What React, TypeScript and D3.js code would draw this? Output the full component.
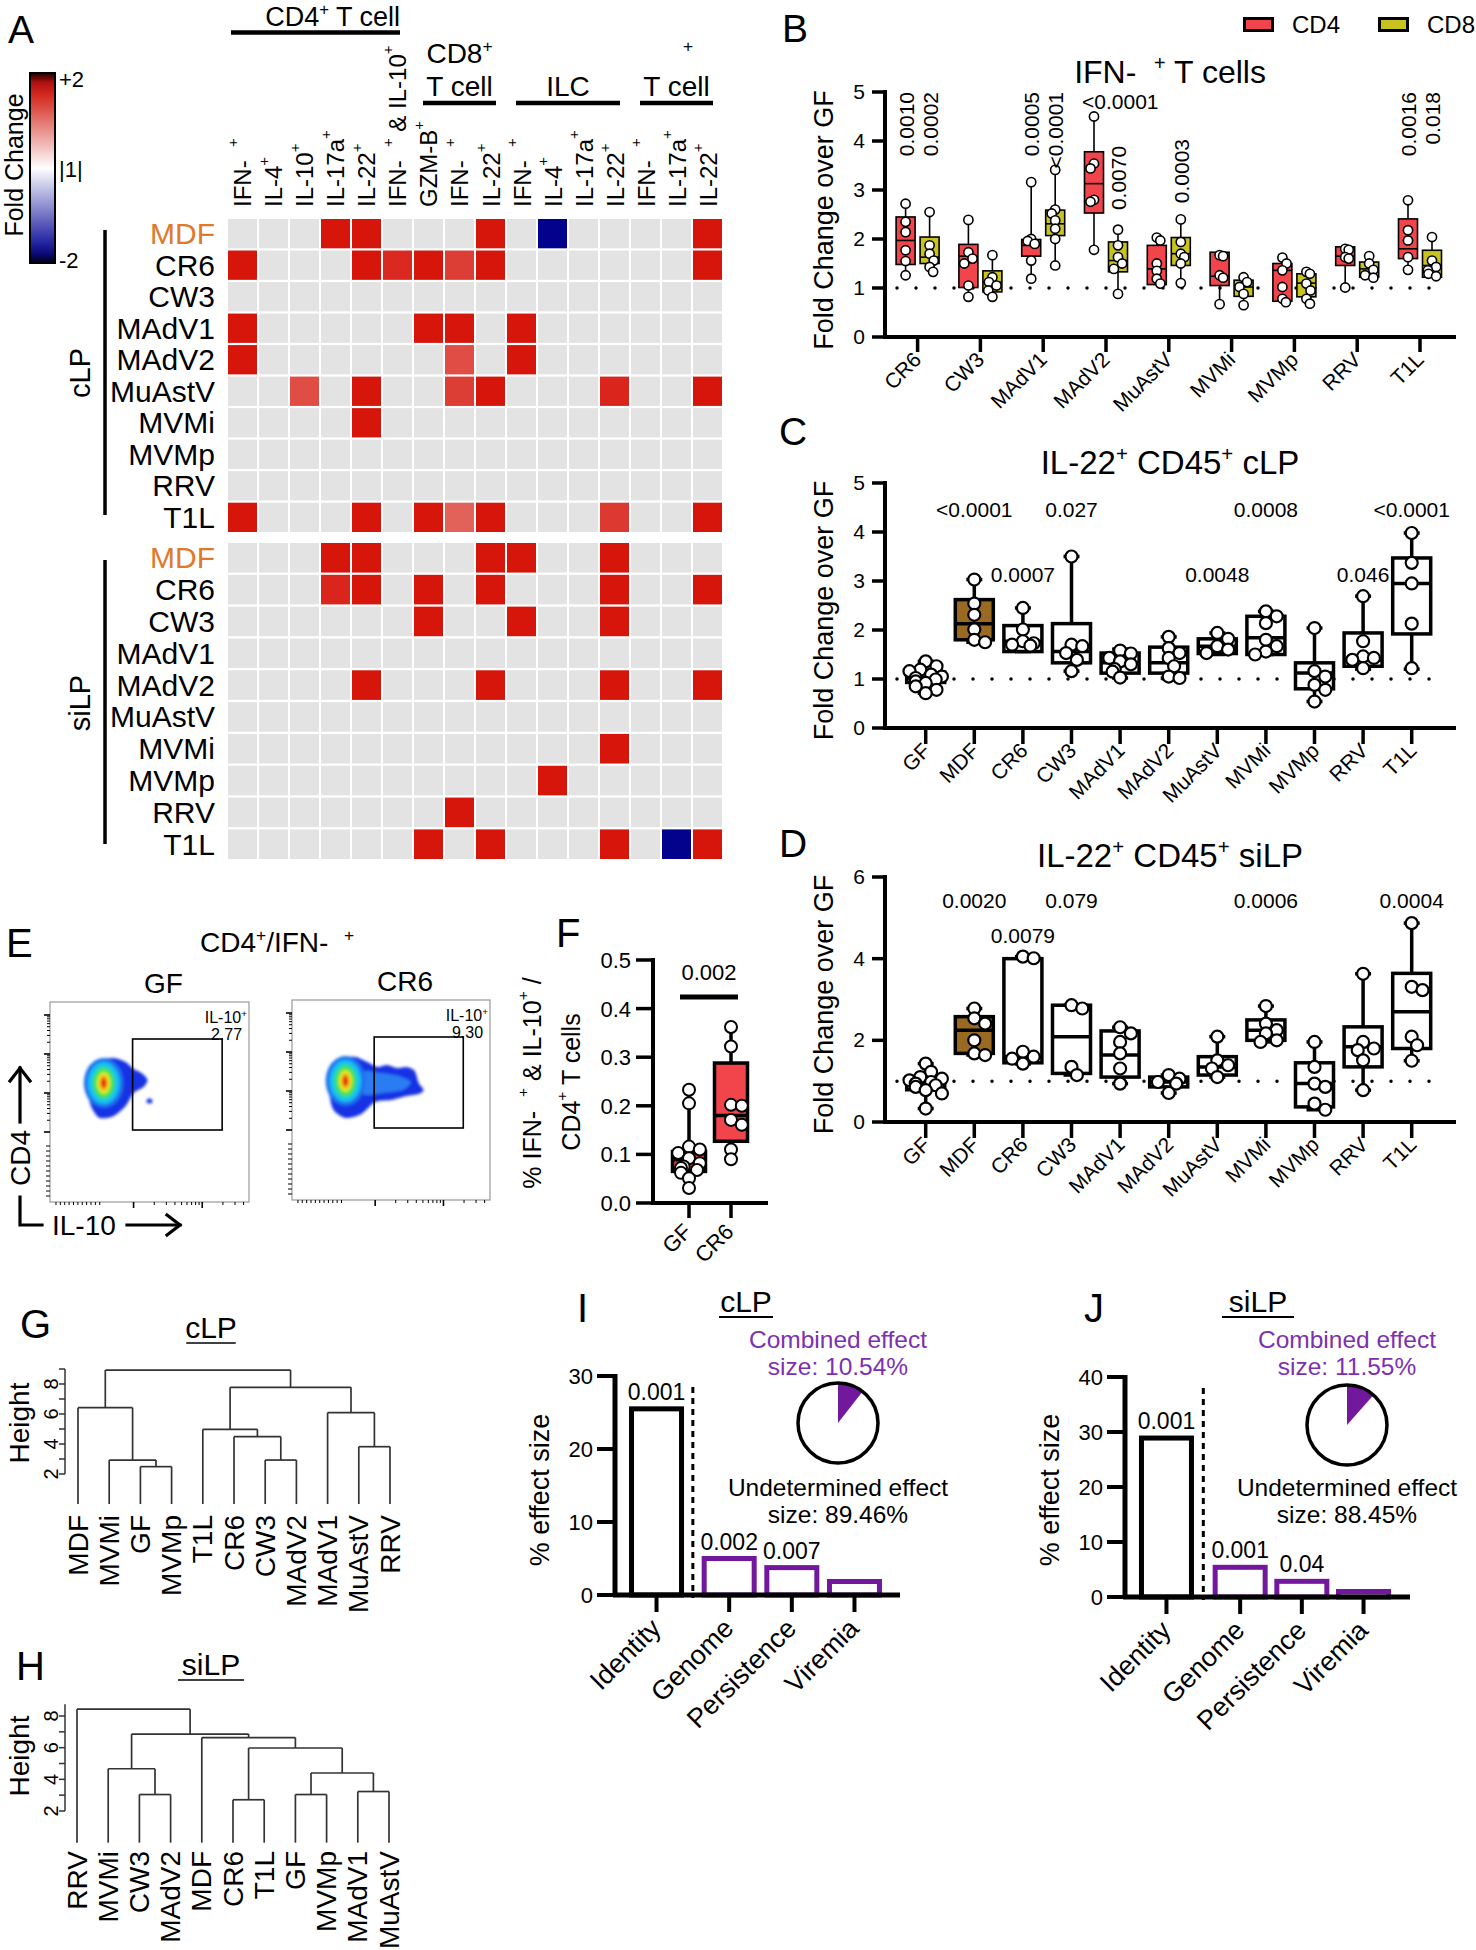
import React from "react";
import * as d3 from "d3";

const FONT = "'Liberation Sans', Arial, Helvetica, sans-serif";
const RED = "#f2454b";
const OLIVE = "#c9c31f";
const BROWN = "#9b6a22";
const PURPLE = "#72189c";
const PURPLE_TXT = "#7d30b0";
const ORANGE = "#e07a2a";

// ---------------- Panel A data ----------------
const heatRowNames = ["MDF", "CR6", "CW3", "MAdV1", "MAdV2", "MuAstV", "MVMi", "MVMp", "RRV", "T1L"];
const heatColLabels = [
  "IFN-  ^+", "IL-4^+", "IL-10^+", "IL-17a^+", "IL-22^+", "IFN-  ^+ & IL-10^+",
  "GZM-B^+", "IFN-  ^+", "IL-22^+",
  "IFN-  ^+", "IL-4^+", "IL-17a^+", "IL-22^+",
  "IFN-  ^+", "IL-17a^+", "IL-22^+",
];
const heatGroups = [
  { line1: "", line2: "CD4^+ T cell", first: 0, last: 5 },
  { line1: "CD8^+", line2: "T cell", first: 6, last: 8 },
  { line1: "", line2: "ILC", first: 9, last: 12 },
  { line1: "\u00a0\u00a0\u00a0^+", line2: "T cell", first: 13, last: 15 },
];
const heatCLP = [
  [0, 0, 0, 2, 2, 0, 0, 0, 2, 0, -2, 0, 0, 0, 0, 2],
  [2, 0, 0, 0, 2, 1.9, 2, 1.8, 2, 0, 0, 0, 0, 0, 0, 2],
  [0, 0, 0, 0, 0, 0, 0, 0, 0, 0, 0, 0, 0, 0, 0, 0],
  [2, 0, 0, 0, 0, 0, 2, 2, 0, 2, 0, 0, 0, 0, 0, 0],
  [2, 0, 0, 0, 0, 0, 0, 1.72, 0, 2, 0, 0, 0, 0, 0, 0],
  [0, 0, 1.72, 0, 2, 0, 0, 1.8, 2, 0, 0, 0, 1.92, 0, 0, 2],
  [0, 0, 0, 0, 2, 0, 0, 0, 0, 0, 0, 0, 0, 0, 0, 0],
  [0, 0, 0, 0, 0, 0, 0, 0, 0, 0, 0, 0, 0, 0, 0, 0],
  [0, 0, 0, 0, 0, 0, 0, 0, 0, 0, 0, 0, 0, 0, 0, 0],
  [2, 0, 0, 0, 2, 0, 2, 1.62, 2, 0, 0, 0, 1.82, 0, 0, 2],
];
const heatSILP = [
  [0, 0, 0, 2, 2, 0, 0, 0, 2, 2, 0, 0, 2, 0, 0, 0],
  [0, 0, 0, 1.92, 2, 0, 2, 0, 2, 0, 0, 0, 2, 0, 0, 2],
  [0, 0, 0, 0, 0, 0, 2, 0, 0, 2, 0, 0, 2, 0, 0, 0],
  [0, 0, 0, 0, 0, 0, 0, 0, 0, 0, 0, 0, 0, 0, 0, 0],
  [0, 0, 0, 0, 2, 0, 0, 0, 2, 0, 0, 0, 2, 0, 0, 2],
  [0, 0, 0, 0, 0, 0, 0, 0, 0, 0, 0, 0, 0, 0, 0, 0],
  [0, 0, 0, 0, 0, 0, 0, 0, 0, 0, 0, 0, 2, 0, 0, 0],
  [0, 0, 0, 0, 0, 0, 0, 0, 0, 0, 2, 0, 0, 0, 0, 0],
  [0, 0, 0, 0, 0, 0, 0, 2, 0, 0, 0, 0, 0, 0, 0, 0],
  [0, 0, 0, 0, 0, 0, 2, 0, 2, 0, 0, 0, 2, 0, -2, 2],
];
const colorbarTicks = ["+2", "|1|", "-2"];

// ---------------- Panel B data ----------------
const bCats = ["CR6", "CW3", "MAdV1", "MAdV2", "MuAstV", "MVMi", "MVMp", "RRV", "T1L"];
const bCD4Box = [
  [1.26, 1.48, 1.97, 2.45, 2.72], [0.82, 1.01, 1.65, 1.89, 2.39], [1.19, 1.65, 1.87, 1.99, 3.16],
  [1.78, 2.53, 3.13, 3.78, 4.5], [1.05, 1.07, 1.39, 1.87, 2.03], [0.67, 1.05, 1.24, 1.73, 1.73],
  [0.71, 0.73, 1.36, 1.5, 1.62], [1.01, 1.46, 1.65, 1.84, 1.84], [1.37, 1.6, 1.8, 2.41, 2.79],
];
const bCD8Box = [
  [1.33, 1.5, 1.63, 2.04, 2.55], [0.82, 0.92, 1.12, 1.35, 1.67], [1.46, 2.07, 2.31, 2.59, 3.41],
  [0.88, 1.33, 1.56, 1.94, 2.19], [1.1, 1.46, 1.7, 2.03, 2.4], [0.65, 0.83, 1.02, 1.16, 1.22],
  [0.68, 0.82, 1.1, 1.29, 1.33], [1.21, 1.22, 1.39, 1.53, 1.65], [1.22, 1.22, 1.46, 1.77, 2.04],
];
const bCD4Pts = [
  [2.72, 2.35, 2.14, 1.77, 1.55, 1.26], [2.39, 1.73, 1.6, 1.5, 1.05, 0.82], [3.16, 2.0, 1.96, 1.9, 1.56, 1.19],
  [4.5, 3.54, 3.44, 2.8, 2.76, 1.78], [2.03, 1.97, 1.5, 1.35, 1.19, 1.09], [1.67, 1.65, 1.26, 1.21, 0.67],
  [1.62, 1.5, 1.36, 1.02, 0.78, 0.71], [1.8, 1.78, 1.63, 1.6, 1.01], [2.79, 2.18, 1.97, 1.63, 1.37],
];
const bCD8Pts = [
  [2.55, 1.87, 1.7, 1.56, 1.43, 1.33], [1.67, 1.22, 1.12, 1.05, 0.95, 0.82], [3.41, 2.6, 2.52, 2.38, 2.21, 2.0, 1.46],
  [2.19, 1.87, 1.63, 1.5, 1.39, 0.88], [2.4, 1.94, 1.7, 1.63, 1.5, 1.1], [1.22, 1.12, 1.02, 0.88, 0.65],
  [1.33, 1.29, 1.09, 0.95, 0.78, 0.68], [1.65, 1.5, 1.37, 1.26, 1.21], [2.04, 1.56, 1.43, 1.36, 1.29, 1.24],
];
const bPvals = [
  { cat: "CR6", grp: 0, text: "0.0010", at: 5, mode: "top" },
  { cat: "CR6", grp: 1, text: "0.0002", at: 5, mode: "top" },
  { cat: "MAdV1", grp: 0, text: "0.0005", at: 5, mode: "top" },
  { cat: "MAdV1", grp: 1, text: "<0.0001", at: 5, mode: "top" },
  { cat: "MAdV2", grp: 1, text: "0.0070", at: 2.59, mode: "bottom" },
  { cat: "MuAstV", grp: 1, text: "0.0003", at: 2.73, mode: "bottom" },
  { cat: "T1L", grp: 0, text: "0.0016", at: 5, mode: "top" },
  { cat: "T1L", grp: 1, text: "0.018", at: 5, mode: "top" },
];
const bHorizP = { cat: "MAdV2", text: "<0.0001", at: 4.65 };

// ---------------- Panel C / D data ----------------
const ilCats = ["GF", "MDF", "CR6", "CW3", "MAdV1", "MAdV2", "MuAstV", "MVMi", "MVMp", "RRV", "T1L"];
const cBox = [
  [0.71, 0.93, 1.02, 1.14, 1.36], [1.75, 1.8, 2.13, 2.62, 3.03], [1.56, 1.56, 1.77, 2.09, 2.45],
  [1.16, 1.33, 1.56, 2.13, 3.5], [1.02, 1.12, 1.33, 1.53, 1.61], [1.02, 1.12, 1.33, 1.65, 1.86],
  [1.5, 1.52, 1.67, 1.82, 1.94], [1.5, 1.5, 1.84, 2.28, 2.38], [0.54, 0.8, 1.12, 1.33, 2.04],
  [1.2, 1.26, 1.39, 1.94, 2.69], [1.2, 1.92, 2.95, 3.47, 3.98],
];
const cPts = [
  [1.36, 1.26, 1.19, 1.16, 1.09, 1.05, 1.02, 0.99, 0.95, 0.92, 0.85, 0.78, 0.71],
  [3.03, 2.54, 2.31, 2.01, 1.8, 1.75], [2.45, 2.01, 1.77, 1.73, 1.7, 1.68],
  [3.5, 1.7, 1.67, 1.53, 1.39, 1.16], [1.58, 1.52, 1.43, 1.36, 1.3, 1.2, 1.15, 1.03],
  [1.86, 1.63, 1.53, 1.43, 1.26, 1.05, 1.02], [1.94, 1.82, 1.67, 1.6, 1.53],
  [2.38, 2.28, 2.14, 1.8, 1.67, 1.56, 1.5], [2.04, 1.16, 1.05, 0.88, 0.78, 0.54],
  [2.69, 1.77, 1.46, 1.43, 1.39, 1.22], [3.98, 3.37, 2.95, 2.13, 1.22],
];
const cPvals = [
  { cat: "MDF", text: "<0.0001", at: 4.31 }, { cat: "CR6", text: "0.0007", at: 2.98 },
  { cat: "CW3", text: "0.027", at: 4.31 }, { cat: "MuAstV", text: "0.0048", at: 2.98 },
  { cat: "MVMi", text: "0.0008", at: 4.31 }, { cat: "RRV", text: "0.046", at: 2.98 },
  { cat: "T1L", text: "<0.0001", at: 4.31 },
];
const dBox = [
  [0.33, 0.79, 0.94, 1.1, 1.43], [1.64, 1.68, 2.25, 2.58, 2.78], [1.42, 1.45, 1.6, 4.0, 4.05],
  [1.15, 1.19, 2.09, 2.86, 2.86], [0.94, 1.1, 1.64, 2.23, 2.32], [0.71, 0.86, 0.98, 1.1, 1.15],
  [1.1, 1.15, 1.35, 1.6, 2.09], [1.96, 2.0, 2.25, 2.5, 2.84], [0.3, 0.37, 0.94, 1.45, 1.96],
  [0.78, 1.35, 1.84, 2.33, 3.63], [1.5, 1.8, 2.7, 3.64, 4.87],
];
const dPts = [
  [1.43, 1.23, 1.1, 1.06, 1.02, 0.98, 0.94, 0.9, 0.86, 0.78, 0.7, 0.33],
  [2.78, 2.54, 2.41, 2.0, 1.68, 1.64], [4.05, 4.01, 1.72, 1.6, 1.55, 1.43],
  [2.86, 2.78, 1.35, 1.15], [2.32, 2.17, 1.96, 1.68, 1.31, 0.94], [1.15, 1.06, 0.98, 0.94, 0.71],
  [2.09, 1.51, 1.39, 1.31, 1.1], [2.84, 2.41, 2.25, 2.17, 2.0, 1.96], [1.96, 1.35, 0.94, 0.86, 0.45, 0.3],
  [3.63, 1.96, 1.8, 1.76, 1.51, 0.78], [4.87, 3.31, 3.23, 2.09, 1.88, 1.5],
];
const dPvals = [
  { cat: "MDF", text: "0.0020", at: 5.24 }, { cat: "CR6", text: "0.0079", at: 4.38 },
  { cat: "CW3", text: "0.079", at: 5.24 }, { cat: "MVMi", text: "0.0006", at: 5.24 },
  { cat: "T1L", text: "0.0004", at: 5.24 },
];

// ---------------- Panel E data (flow contours, fractions of plot) ----------------
const flowSamples = [
  { name: "GF", pct: "2.77", outer: [[0.19, 0.6], [0.2, 0.67], [0.25, 0.71], [0.32, 0.72], [0.38, 0.7], [0.42, 0.665], [0.46, 0.645], [0.49, 0.61], [0.47, 0.575], [0.42, 0.545], [0.38, 0.48], [0.32, 0.43], [0.25, 0.42], [0.21, 0.47], [0.19, 0.54]], tail: [] as number[][], dot: [0.5, 0.505] },
  { name: "CR6", pct: "9.30", outer: [[0.19, 0.58], [0.2, 0.66], [0.25, 0.71], [0.32, 0.715], [0.38, 0.69], [0.43, 0.665], [0.48, 0.675], [0.53, 0.66], [0.58, 0.665], [0.62, 0.645], [0.64, 0.585], [0.665, 0.55], [0.64, 0.53], [0.58, 0.52], [0.5, 0.5], [0.42, 0.49], [0.35, 0.43], [0.27, 0.41], [0.21, 0.45], [0.19, 0.52]], tail: [[0.36, 0.64], [0.45, 0.635], [0.54, 0.62], [0.6, 0.59], [0.56, 0.55], [0.46, 0.535], [0.36, 0.53]], dot: null as number[] | null },
];
const flowLevels = [
  { rx: 0.1, ry: 0.125, c: "#1f6ff0" },
  { rx: 0.08, ry: 0.105, c: "#19c2ef" },
  { rx: 0.055, ry: 0.08, c: "#3fe35a" },
  { rx: 0.034, ry: 0.055, c: "#e8e41e" },
  { rx: 0.02, ry: 0.036, c: "#f59414" },
  { rx: 0.011, ry: 0.022, c: "#e3200c" },
];
const flowCore = [0.27, 0.595];
const flowGate = { x0: 0.415, x1: 0.865, y0: 0.36, y1: 0.815 };

// ---------------- Panel F data ----------------
const fCats = ["GF", "CR6"];
const fBox = [[0.031, 0.065, 0.089, 0.106, 0.233], [0.09, 0.127, 0.18, 0.288, 0.362]];
const fPts = [
  [0.233, 0.205, 0.116, 0.11, 0.103, 0.092, 0.082, 0.075, 0.072, 0.068, 0.062, 0.051, 0.031],
  [0.362, 0.322, 0.202, 0.2, 0.171, 0.161, 0.11, 0.09],
];
const fP = { text: "0.002", bar: 0.424, label: 0.459 };
const fTicks = [0, 0.1, 0.2, 0.3, 0.4, 0.5];

// ---------------- Panel G / H data ----------------
type Tree = string | [Tree, Tree, number];
const gTree: Tree = [["MDF", ["MVMi", ["GF", "MVMp", 2.49], 2.93], 6.42], [["T1L", ["CR6", ["CW3", "MAdV2", 2.93], 4.49], 4.98], ["MAdV1", ["MuAstV", "RRV", 3.82], 6.09], 7.78], 8.93];
const hTree: Tree = ["RRV", [["MVMi", ["CW3", "MAdV2", 3.04], 4.67], ["MDF", [["CR6", "T1L", 2.71], [["GF", "MVMp", 3.04], ["MAdV1", "MuAstV", 3.23], 4.4], 5.98], 6.64], 6.86], 8.43];

// ---------------- Panel I / J data ----------------
const effCats = ["Identity", "Genome", "Persistence", "Viremia"];
const iVals = [25.5, 5.0, 3.75, 1.85];
const iP = ["0.001", "0.002", "0.007", ""];
const jVals = [28.9, 5.4, 2.85, 1.0];
const jP = ["0.001", "0.001", "0.04", ""];
const iCombined = 10.54;
const jCombined = 11.55;

// ---------------- helpers ----------------
function Rich({ t, fs }: { t: string; fs: number }) {
  const parts = t.split("^");
  const out: any[] = [];
  parts.forEach((p, i) => {
    if (i === 0) {
      if (p) out.push(<tspan key="n0">{p}</tspan>);
      return;
    }
    out.push(<tspan key={"s" + i} dy={-fs * 0.4} fontSize={fs * 0.62}>{p[0]}</tspan>);
    if (p.length > 1) out.push(<tspan key={"r" + i} dy={fs * 0.4} fontSize={fs}>{p.slice(1)}</tspan>);
  });
  return <>{out}</>;
}

function Txt({ x, y, fs, t, anchor = "start", rot = 0, fill = "#000", base }: any) {
  return (
    <text
      transform={`translate(${x},${y})${rot ? ` rotate(${rot})` : ""}`}
      fontSize={fs}
      textAnchor={anchor}
      fill={fill}
      dominantBaseline={base}
      style={{ whiteSpace: "pre" }}
    >
      <Rich t={t} fs={fs} />
    </text>
  );
}

function swarm(vals: number[], y: (v: number) => number, r: number, maxOff: number) {
  const placed: { x: number; y: number }[] = [];
  return vals.map((v) => {
    const py = y(v);
    const cands = [0];
    for (let k = 1; k < 10; k++) cands.push(k * r * 0.9, -k * r * 0.9);
    for (const dx of cands) {
      if (Math.abs(dx) > maxOff) continue;
      if (placed.every((p) => Math.hypot(p.x - dx, p.y - py) >= 1.55 * r)) {
        placed.push({ x: dx, y: py });
        return dx;
      }
    }
    const dx = (placed.length % 2 ? 1 : -1) * maxOff * 0.5;
    placed.push({ x: dx, y: py });
    return dx;
  });
}

function Box({ cx, w, s, y, fill, sw, cap = 0 }: any) {
  const [mn, q1, md, q3, mx] = s;
  return (
    <g stroke="#000" strokeWidth={sw}>
      <line x1={cx} x2={cx} y1={y(mx)} y2={y(q3)} />
      <line x1={cx} x2={cx} y1={y(q1)} y2={y(mn)} />
      {cap > 0 && <line x1={cx - cap / 2} x2={cx + cap / 2} y1={y(mx)} y2={y(mx)} />}
      {cap > 0 && <line x1={cx - cap / 2} x2={cx + cap / 2} y1={y(mn)} y2={y(mn)} />}
      <rect x={cx - w / 2} y={y(q3)} width={w} height={Math.max(0.5, y(q1) - y(q3))} fill={fill} />
      <line x1={cx - w / 2} x2={cx + w / 2} y1={y(md)} y2={y(md)} />
    </g>
  );
}

function Pts({ cx, vals, y, r, maxOff, sw }: any) {
  const offs = swarm(vals, y, r, maxOff);
  return (
    <g fill="#fff" stroke="#000" strokeWidth={sw}>
      {vals.map((v: number, i: number) => (
        <circle key={i} cx={cx + offs[i]} cy={y(v)} r={r} />
      ))}
    </g>
  );
}

function Letter({ x, y, t }: any) {
  return <text x={x} y={y} fontSize={39}>{t}</text>;
}

// ---------------- Panel A ----------------
function PanelA() {
  const hx = d3.scaleBand<number>().domain(d3.range(16)).range([228, 722]).paddingInner(0.065);
  const hyC = d3.scaleBand<string>().domain(heatRowNames).range([219, 532]).paddingInner(0.07);
  const hyS = d3.scaleBand<string>().domain(heatRowNames).range([543, 859]).paddingInner(0.07);
  const pos = d3.scaleLinear<string>().domain([1, 2]).range(["#f6dcd8", "#d6150b"]);
  const neg = d3.scaleLinear<string>().domain([-2, -1]).range(["#02028c", "#dcdcf0"]);
  const cellColor = (v: number) => (v === 0 ? "#e3e3e3" : v > 0 ? pos(v) : neg(v));
  const bw = hx.bandwidth();
  const cb = d3.scaleLinear().domain([2, -2]).range([73, 263]);

  const block = (mat: number[][], hy: any, key: string) => (
    <g key={key}>
      {mat.map((row, ri) =>
        row.map((v, ci) => (
          <rect key={key + ri + "-" + ci} x={hx(ci)} y={hy(heatRowNames[ri])} width={bw} height={hy.bandwidth()} fill={cellColor(v)} />
        ))
      )}
      {heatRowNames.map((n) => (
        <text key={key + n} x={215} y={hy(n) + hy.bandwidth() / 2 + 10.5} fontSize={30} textAnchor="end" fill={n === "MDF" ? ORANGE : "#000"}>
          {n}
        </text>
      ))}
    </g>
  );

  return (
    <g>
      <Letter x={8} y={43} t="A" />
      <defs>
        <linearGradient id="cbar" x1="0" y1="0" x2="0" y2="1">
          <stop offset="0" stopColor="#1a0000" />
          <stop offset="0.05" stopColor="#b01010" />
          <stop offset="0.12" stopColor="#d52a1f" />
          <stop offset="0.47" stopColor="#fbeeee" />
          <stop offset="0.5" stopColor="#ffffff" />
          <stop offset="0.53" stopColor="#eeeef8" />
          <stop offset="0.88" stopColor="#2a2aa6" />
          <stop offset="0.95" stopColor="#0a0a78" />
          <stop offset="1" stopColor="#000012" />
        </linearGradient>
      </defs>
      <rect x={30} y={cb(2)} width={25} height={cb(-2) - cb(2)} fill="url(#cbar)" stroke="#000" strokeWidth={2} />
      <text x={59} y={cb(2) + 14} fontSize={22}>{colorbarTicks[0]}</text>
      <text x={59} y={cb(0) + 9} fontSize={22}>{colorbarTicks[1]}</text>
      <text x={59} y={cb(-2) + 5} fontSize={22}>{colorbarTicks[2]}</text>
      <Txt x={14} y={165} fs={25} t="Fold Change" rot={-90} anchor="middle" base="central" />

      {/* group headers */}
      {heatGroups.map((g, i) => {
        const x0 = (hx(g.first) as number) + 3;
        const x1 = (hx(g.last) as number) + bw - (i === 0 ? 12 : 9);
        const xs = i === 0 ? x0 : x0 + 6;
        if (i === 0) {
          return (
            <g key={i}>
              <Txt x={x1} y={26} fs={27} t={g.line2} anchor="end" />
              <line x1={xs} x2={x1} y1={32.5} y2={32.5} stroke="#000" strokeWidth={4.5} />
            </g>
          );
        }
        const cx = (xs + x1) / 2;
        return (
          <g key={i}>
            {g.line1 && <Txt x={cx} y={63} fs={28} t={g.line1} anchor="middle" />}
            <Txt x={cx} y={96} fs={28} t={g.line2} anchor="middle" />
            <line x1={xs} x2={x1} y1={103} y2={103} stroke="#000" strokeWidth={4.5} />
          </g>
        );
      })}
      {heatColLabels.map((l, i) => (
        <Txt key={i} x={(hx(i) as number) + bw / 2} y={207} fs={24} t={l} rot={-90} base="central" />
      ))}

      {block(heatCLP, hyC, "c")}
      {block(heatSILP, hyS, "s")}

      <line x1={105} x2={105} y1={230} y2={515} stroke="#000" strokeWidth={3.5} />
      <line x1={105} x2={105} y1={560} y2={844} stroke="#000" strokeWidth={3.5} />
      <Txt x={80} y={373} fs={29} t="cLP" rot={-90} anchor="middle" base="central" />
      <Txt x={80} y={703} fs={29} t="siLP" rot={-90} anchor="middle" base="central" />
    </g>
  );
}

// ---------------- Panel B ----------------
function PanelB() {
  const y = d3.scaleLinear().domain([0, 5]).range([337, 92]);
  const x = d3.scalePoint<string>().domain(bCats).range([917.6, 1420]);
  const off = [-12, 12];
  const boxes = [bCD4Box, bCD8Box];
  const pts = [bCD4Pts, bCD8Pts];
  const fills = [RED, OLIVE];
  return (
    <g>
      <Letter x={782} y={42} t="B" />
      {/* legend */}
      <rect x={1244.5} y={18.5} width={28} height={12} fill={RED} stroke="#000" strokeWidth={3} />
      <text x={1292} y={33} fontSize={24}>CD4</text>
      <rect x={1379.5} y={18.5} width={28} height={12} fill={OLIVE} stroke="#000" strokeWidth={3} />
      <text x={1427} y={33} fontSize={24}>CD8</text>
      <Txt x={1170} y={83} fs={32} t={"IFN-  ^+ T cells"} anchor="middle" />

      <line x1={897} x2={1446} y1={y(1)} y2={y(1)} stroke="#000" strokeWidth={3.5} strokeDasharray="0 19" strokeLinecap="round" />
      {bCats.map((c, i) =>
        [0, 1].map((g) => (
          <g key={c + g}>
            <Box cx={(x(c) as number) + off[g]} w={19} s={boxes[g][i]} y={y} fill={fills[g]} sw={1.6} />
            <Pts cx={(x(c) as number) + off[g]} vals={pts[g][i]} y={y} r={4.6} maxOff={7} sw={1.6} />
          </g>
        ))
      )}
      {/* axes */}
      <line x1={885} x2={885} y1={y(5) - 2} y2={y(0) + 2} stroke="#000" strokeWidth={4} />
      <line x1={883} x2={1456} y1={y(0)} y2={y(0)} stroke="#000" strokeWidth={4} />
      {d3.range(0, 6).map((t) => (
        <g key={t}>
          <line x1={872} x2={885} y1={y(t)} y2={y(t)} stroke="#000" strokeWidth={3.5} />
          <text x={865} y={y(t) + 7} fontSize={21} textAnchor="end">{t}</text>
        </g>
      ))}
      {bCats.map((c) => (
        <g key={c}>
          <line x1={x(c)} x2={x(c)} y1={y(0)} y2={y(0) + 15} stroke="#000" strokeWidth={3.5} />
          <text transform={`translate(${(x(c) as number) + 5},${y(0) + 24}) rotate(-45)`} fontSize={21} textAnchor="end">{c}</text>
        </g>
      ))}
      <Txt x={824} y={220} fs={27} t="Fold Change over GF" rot={-90} anchor="middle" base="central" />
      {bPvals.map((p, i) => (
        <Txt
          key={i}
          x={(x(p.cat) as number) + off[p.grp]}
          y={y(p.at)}
          fs={21}
          t={p.text}
          rot={-90}
          anchor={p.mode === "top" ? "end" : "start"}
          base="central"
        />
      ))}
      <text x={(x(bHorizP.cat) as number) - 24} y={y(bHorizP.at)} fontSize={21}>{bHorizP.text}</text>
    </g>
  );
}

// ---------------- Panel C / D ----------------
function IL22Panel({ letter, letterY, title, titleY, y, ticks, boxes, pts, pvals }: any) {
  const x = d3.scalePoint<string>().domain(ilCats).range([925.7, 1411.7]);
  const y0 = y(0);
  const yTop = y(y.domain()[1]);
  return (
    <g>
      <Letter x={779} y={letterY} t={letter} />
      <Txt x={1170} y={titleY} fs={33} t={title} anchor="middle" />
      <line x1={897} x2={1446} y1={y(1)} y2={y(1)} stroke="#000" strokeWidth={3.5} strokeDasharray="0 19" strokeLinecap="round" />
      {ilCats.map((c, i) => (
        <g key={c}>
          <Box cx={x(c)} w={38} s={boxes[i]} y={y} fill={c === "MDF" ? BROWN : "#fff"} sw={3.5} cap={16} />
          <Pts cx={x(c)} vals={pts[i]} y={y} r={6} maxOff={c === "GF" ? 20 : 15} sw={2.2} />
        </g>
      ))}
      <line x1={885} x2={885} y1={yTop - 2} y2={y0 + 2} stroke="#000" strokeWidth={4} />
      <line x1={883} x2={1456} y1={y0} y2={y0} stroke="#000" strokeWidth={4} />
      {ticks.map((t: number) => (
        <g key={t}>
          <line x1={872} x2={885} y1={y(t)} y2={y(t)} stroke="#000" strokeWidth={3.5} />
          <text x={865} y={y(t) + 7} fontSize={21} textAnchor="end">{t}</text>
        </g>
      ))}
      {ilCats.map((c) => (
        <g key={c}>
          <line x1={x(c)} x2={x(c)} y1={y0} y2={y0 + 16} stroke="#000" strokeWidth={3.5} />
          <text transform={`translate(${(x(c) as number) + 6},${y0 + 24}) rotate(-45)`} fontSize={21} textAnchor="end">{c}</text>
        </g>
      ))}
      <Txt x={824} y={(y0 + yTop) / 2 + 5} fs={27} t="Fold Change over GF" rot={-90} anchor="middle" base="central" />
      {pvals.map((p: any, i: number) => (
        <text key={i} x={x(p.cat)} y={y(p.at)} fontSize={21} textAnchor="middle">{p.text}</text>
      ))}
    </g>
  );
}

// ---------------- Panel E ----------------
function FlowPlot({ x0, y0, w, h, sample, title, clipId }: any) {
  const fx = d3.scaleLinear().domain([0, 1]).range([x0, x0 + w]);
  const fy = d3.scaleLinear().domain([0, 1]).range([y0 + h, y0]);
  const line = d3.line<number[]>().x((d) => fx(d[0])).y((d) => fy(d[1])).curve(d3.curveCardinalClosed.tension(0.2));
  const logY = d3.scaleLog().domain([100, 100000]).range([fy(0.35), fy(0.935)]);
  const logX = d3.scaleLog().domain([100, 10000]).range([fx(0.42), fx(0.765) + (fx(0.765) - fx(0.42))]);
  const yTicks = logY.ticks().filter((t) => logY(t) >= y0);
  const xTicks = logX.ticks().filter((t) => logX(t) <= x0 + w);
  const linY = d3.range(0.03, 0.3, 0.025);
  const linX = d3.range(0.03, 0.27, 0.022);
  return (
    <g>
      <text x={x0 + w / 2 + 14} y={y0 - 9} fontSize={28} textAnchor="middle">{title}</text>
      <rect x={x0} y={y0} width={w} height={h} fill="#fff" stroke="#999" strokeWidth={1.2} />
      <g filter={`url(#${clipId})`}>
        <path d={line(sample.outer) as string} fill="#1330e4" />
        {sample.tail.length > 0 && <path d={line(sample.tail) as string} fill="#2a7cf2" />}
        {sample.dot && <ellipse cx={fx(sample.dot[0])} cy={fy(sample.dot[1])} rx={3} ry={2.5} fill="#1330e4" />}
        {flowLevels.map((l, i) => (
          <ellipse key={i} cx={fx(flowCore[0])} cy={fy(flowCore[1])} rx={fx(l.rx) - fx(0)} ry={fy(0) - fy(l.ry)} fill={l.c} />
        ))}
      </g>
      <rect x={fx(flowGate.x0)} y={fy(flowGate.y1)} width={fx(flowGate.x1) - fx(flowGate.x0)} height={fy(flowGate.y0) - fy(flowGate.y1)} fill="none" stroke="#000" strokeWidth={1.6} />
      <Txt x={fx(0.99)} y={fy(0.895)} fs={16} t="IL-10^+" anchor="end" />
      <text x={fx(0.965)} y={fy(0.81)} fontSize={16} textAnchor="end">{sample.pct}</text>
      <g stroke="#000" strokeWidth={1}>
        {yTicks.map((t, i) => {
          const major = Math.log10(t) % 1 === 0;
          return <line key={"y" + i} x1={x0 - (major ? 6 : 3)} x2={x0} y1={logY(t)} y2={logY(t)} strokeWidth={major ? 1.6 : 1} />;
        })}
        {linY.map((f, i) => (
          <line key={"ly" + i} x1={x0 - 4} x2={x0} y1={fy(f)} y2={fy(f)} />
        ))}
        {xTicks.map((t, i) => {
          const major = Math.log10(t) % 1 === 0;
          return <line key={"x" + i} x1={logX(t)} x2={logX(t)} y1={y0 + h} y2={y0 + h + (major ? 6 : 3)} strokeWidth={major ? 1.6 : 1} />;
        })}
        {linX.map((f, i) => (
          <line key={"lx" + i} x1={fx(f)} x2={fx(f)} y1={y0 + h} y2={y0 + h + 3} />
        ))}
      </g>
    </g>
  );
}

function PanelE() {
  return (
    <g>
      <defs>
        <filter id="blurE" x="-20%" y="-20%" width="140%" height="140%">
          <feGaussianBlur stdDeviation="1.6" />
        </filter>
      </defs>
      <text x={6} y={957} fontSize={40}>E</text>
      <Txt x={200} y={952} fs={28} t={"CD4^+/IFN-  ^+"} />
      <FlowPlot x0={50} y0={1002} w={199} h={200} sample={flowSamples[0]} title="GF" clipId="blurE" />
      <FlowPlot x0={292} y0={1000} w={198} h={200} sample={flowSamples[1]} title="CR6" clipId="blurE" />
      {/* axis arrows */}
      <g stroke="#000" strokeWidth={3.2} fill="none" strokeLinecap="square">
        <line x1={20} x2={20} y1={1122} y2={1068} />
        <polyline points="10,1081 20,1068 30,1081" />
        <polyline points="20,1197 20,1225 42,1225" />
        <line x1={127} x2={180} y1={1225} y2={1225} />
        <polyline points="167,1215 180,1225 167,1235" />
      </g>
      <text transform="translate(20,1158) rotate(-90)" fontSize={28} textAnchor="middle" dominantBaseline="central">CD4</text>
      <text x={52} y={1235} fontSize={28}>IL-10</text>
    </g>
  );
}

// ---------------- Panel F ----------------
function PanelF() {
  const y = d3.scaleLinear().domain([0, 0.5]).range([1203, 960]);
  const x = d3.scalePoint<string>().domain(fCats).range([689, 731]);
  return (
    <g>
      <text x={556} y={947} fontSize={40}>F</text>
      {fCats.map((c, i) => (
        <g key={c}>
          <Box cx={x(c)} w={33} s={fBox[i]} y={y} fill={RED} sw={3.5} cap={12} />
          <Pts cx={x(c)} vals={fPts[i]} y={y} r={6} maxOff={16} sw={2} />
        </g>
      ))}
      <line x1={653} x2={653} y1={y(0.5) - 2} y2={y(0) + 2} stroke="#000" strokeWidth={4} />
      <line x1={651} x2={768} y1={y(0)} y2={y(0)} stroke="#000" strokeWidth={4} />
      {fTicks.map((t) => (
        <g key={t}>
          <line x1={636} x2={653} y1={y(t)} y2={y(t)} stroke="#000" strokeWidth={3.5} />
          <text x={631} y={y(t) + 8} fontSize={22} textAnchor="end">{t.toFixed(1)}</text>
        </g>
      ))}
      {fCats.map((c) => (
        <g key={c}>
          <line x1={x(c)} x2={x(c)} y1={y(0)} y2={y(0) + 15} stroke="#000" strokeWidth={3.5} />
          <text transform={`translate(${(x(c) as number) + 4},${y(0) + 30}) rotate(-45)`} fontSize={22} textAnchor="end">{c}</text>
        </g>
      ))}
      <line x1={680} x2={738} y1={y(fP.bar)} y2={y(fP.bar)} stroke="#000" strokeWidth={5} />
      <text x={709} y={y(fP.label)} fontSize={22} textAnchor="middle">{fP.text}</text>
      <Txt x={532} y={1083} fs={25} t={"% IFN-  ^+ & IL-10^+ /"} rot={-90} anchor="middle" base="central" />
      <Txt x={571} y={1082} fs={25} t={"CD4^+ T cells"} rot={-90} anchor="middle" base="central" />
    </g>
  );
}

// ---------------- Panels G / H ----------------
function leavesOf(t: Tree): string[] {
  return typeof t === "string" ? [t] : [...leavesOf(t[0]), ...leavesOf(t[1])];
}

function Dendro({ tree, letter, letterY, title, titleY, xr, yScale, axisTop, labelTop, heightY }: any) {
  const leaves = leavesOf(tree);
  const x = d3.scalePoint<string>().domain(leaves).range(xr);
  const segs: { x1: number; y1: number; x2: number; y2: number }[] = [];
  const lay = (t: Tree): { x: number; h: number } => {
    if (typeof t === "string") return { x: x(t) as number, h: 0 };
    const a = lay(t[0]);
    const b = lay(t[1]);
    const h = t[2];
    segs.push({ x1: a.x, y1: yScale(h), x2: b.x, y2: yScale(h) });
    segs.push({ x1: a.x, y1: yScale(h), x2: a.x, y2: yScale(a.h) });
    segs.push({ x1: b.x, y1: yScale(h), x2: b.x, y2: yScale(b.h) });
    return { x: (a.x + b.x) / 2, h };
  };
  lay(tree);
  const tw = title.length * 16.5;
  return (
    <g>
      <text x={letterY.x} y={letterY.y} fontSize={40}>{letter}</text>
      <text x={211} y={titleY} fontSize={30} textAnchor="middle">{title}</text>
      <line x1={211 - tw / 2} x2={211 + tw / 2} y1={titleY + 5} y2={titleY + 5} stroke="#000" strokeWidth={1.6} />
      <g stroke="#333" strokeWidth={1.7} fill="none">
        {segs.map((s, i) => (
          <line key={i} x1={s.x1} y1={s.y1} x2={s.x2} y2={s.y2} />
        ))}
      </g>
      <line x1={65} x2={65} y1={yScale(axisTop)} y2={yScale(2)} stroke="#333" strokeWidth={1.5} />
      {d3.range(2, Math.floor(axisTop) + 1).map((t) => (
        <g key={t}>
          <line x1={59} x2={65} y1={yScale(t)} y2={yScale(t)} stroke="#333" strokeWidth={1.5} />
          {t % 2 === 0 && (
            <text transform={`translate(51,${yScale(t)}) rotate(-90)`} fontSize={20} textAnchor="middle" dominantBaseline="central">{t}</text>
          )}
        </g>
      ))}
      <text transform={`translate(19,${heightY}) rotate(-90)`} fontSize={28} textAnchor="middle" dominantBaseline="central">Height</text>
      {leaves.map((l) => (
        <text key={l} transform={`translate(${x(l)},${labelTop}) rotate(-90)`} fontSize={28} textAnchor="end" dominantBaseline="central">{l}</text>
      ))}
    </g>
  );
}

// ---------------- Panels I / J ----------------
function EffectPanel({ letter, letterX, title, titleX, vals, pv, yMax, yRange, range, gap, axisX, axisRight, pieC, combined }: any) {
  const y = d3.scaleLinear().domain([0, yMax]).range(yRange);
  const band = d3.scaleBand<string>().domain(effCats).range(range).padding(0.15);
  const bw = 50;
  const centers = effCats.map((c, i) => (band(c) as number) + band.bandwidth() / 2 + (i > 0 ? gap : 0));
  const y0 = y(0);
  const sepX = (centers[0] + centers[1]) / 2;
  const pie = d3.pie<number>().sort(null)([combined, 100 - combined]);
  const arc = d3.arc<any>().innerRadius(0).outerRadius(40);
  const tw = title.length * 18;
  return (
    <g>
      <text x={letterX} y={1322} fontSize={40}>{letter}</text>
      <text x={titleX} y={1312} fontSize={30} textAnchor="middle">{title}</text>
      <line x1={titleX - tw / 2} x2={titleX + tw / 2} y1={1317} y2={1317} stroke="#000" strokeWidth={1.8} />
      <text x={pieC[0]} y={1348} fontSize={24.5} textAnchor="middle" fill={PURPLE_TXT}>Combined effect</text>
      <text x={pieC[0]} y={1375} fontSize={24.5} textAnchor="middle" fill={PURPLE_TXT}>{`size: ${combined.toFixed(2)}%`}</text>
      <g transform={`translate(${pieC[0]},${pieC[1]})`}>
        <path d={arc(pie[0]) as string} fill={PURPLE} />
        <circle r={40} fill="none" stroke="#000" strokeWidth={3.5} />
      </g>
      <text x={pieC[0]} y={1496} fontSize={24.5} textAnchor="middle">Undetermined effect</text>
      <text x={pieC[0]} y={1523} fontSize={24.5} textAnchor="middle">{`size: ${(100 - combined).toFixed(2)}%`}</text>

      {vals.map((v: number, i: number) => (
        <g key={i}>
          <rect x={centers[i] - bw / 2} y={y(v)} width={bw} height={Math.max(0, y0 - y(v))} fill="#fff" stroke={i === 0 ? "#000" : PURPLE} strokeWidth={5} />
          {pv[i] && <text x={centers[i]} y={y(v) - 9} fontSize={23} textAnchor="middle">{pv[i]}</text>}
        </g>
      ))}
      <line x1={sepX} x2={sepX} y1={y(yMax * 0.95)} y2={y0 + 3} stroke="#000" strokeWidth={3} strokeDasharray="6 5" />
      <line x1={axisX} x2={axisX} y1={y(yMax) - 2} y2={y0 + 2} stroke="#000" strokeWidth={5} />
      <line x1={axisX - 2} x2={axisRight} y1={y0} y2={y0} stroke="#000" strokeWidth={5} />
      {y.ticks(yMax / 10).map((t) => (
        <g key={t}>
          <line x1={axisX - 18} x2={axisX} y1={y(t)} y2={y(t)} stroke="#000" strokeWidth={4} />
          <text x={axisX - 22} y={y(t) + 8} fontSize={22} textAnchor="end">{t}</text>
        </g>
      ))}
      {effCats.map((c, i) => (
        <g key={c}>
          <line x1={centers[i]} x2={centers[i]} y1={y0} y2={y0 + 17} stroke="#000" strokeWidth={4} />
          <text transform={`translate(${centers[i] + 6},${y0 + 35}) rotate(-45)`} fontSize={27} textAnchor="end">{c}</text>
        </g>
      ))}
      <text transform={`translate(${axisX - 75},1490) rotate(-90)`} fontSize={27} textAnchor="middle" dominantBaseline="central">% effect size</text>
    </g>
  );
}

export default function App() {
  const yC = d3.scaleLinear().domain([0, 5]).range([728, 483]);
  const yD = d3.scaleLinear().domain([0, 6]).range([1122, 877]);
  const yG = d3.scaleLinear().domain([2, 9]).range([1474, 1369]);
  const yH = d3.scaleLinear().domain([2, 8]).range([1811, 1716]);
  return (
    <svg width={1476} height={1950} viewBox="0 0 1476 1950" style={{ position: "absolute", left: 0, top: 0, display: "block" }} fontFamily={FONT}>
      <rect width={1476} height={1950} fill="#fff" />
      <PanelA />
      <PanelB />
      <IL22Panel letter="C" letterY={445} title={"IL-22^+ CD45^+ cLP"} titleY={474} y={yC} ticks={[0, 1, 2, 3, 4, 5]} boxes={cBox} pts={cPts} pvals={cPvals} />
      <IL22Panel letter="D" letterY={857} title={"IL-22^+ CD45^+ siLP"} titleY={867} y={yD} ticks={[0, 2, 4, 6]} boxes={dBox} pts={dPts} pvals={dPvals} />
      <PanelE />
      <PanelF />
      <Dendro tree={gTree} letter="G" letterY={{ x: 20, y: 1338 }} title="cLP" titleY={1338} xr={[78, 390]} yScale={yG} axisTop={9} labelTop={1515} heightY={1423} />
      <Dendro tree={hTree} letter="H" letterY={{ x: 16, y: 1680 }} title="siLP" titleY={1675} xr={[77, 389]} yScale={yH} axisTop={8.75} labelTop={1851} heightY={1756} />
      <EffectPanel letter="I" letterX={577} title="cLP" titleX={746} vals={iVals} pv={iP} yMax={30} yRange={[1595, 1376]} range={[620.5, 880.5]} gap={10} axisX={615} axisRight={900} pieC={[838, 1423]} combined={iCombined} />
      <EffectPanel letter="J" letterX={1084} title="siLP" titleX={1258} vals={jVals} pv={jP} yMax={40} yRange={[1597, 1377]} range={[1131, 1387]} gap={12} axisX={1125} axisRight={1410} pieC={[1347, 1425]} combined={jCombined} />
    </svg>
  );
}
